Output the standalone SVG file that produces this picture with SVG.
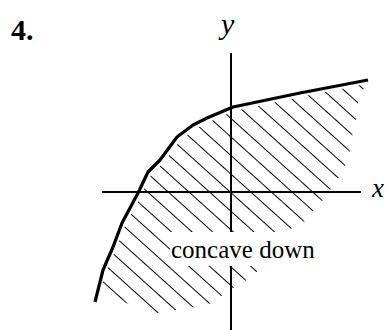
<svg xmlns="http://www.w3.org/2000/svg" width="388" height="330" viewBox="0 0 388 330">
  <style>
    .axis { stroke: #000; stroke-width: 2; fill: none; }
    .curve { stroke: #000; stroke-width: 3.2; fill: none; stroke-linejoin: round; stroke-linecap: butt; }
    .hatch { stroke: #000; stroke-width: 1.3; shape-rendering: crispEdges; }
    .lbl { font-family: "Liberation Serif", "Times New Roman", serif; fill: #000; }
  </style>
  <defs>
    <pattern id="hatchPat" patternUnits="userSpaceOnUse" width="200" height="13.8" patternTransform="rotate(42)">
      <line class="hatch" x1="0" y1="2.4" x2="200" y2="2.4"/>
    </pattern>
    <clipPath id="region">
      <polygon points="366,84 300,97 234,111 209,122 195,129 180,141 163,163 151,175 141,196 125,226 116,249 106,272 100,292 107,290 123,302 157,313 175,310 195,307 212,303 225,293 238,285 252,277 262,266 280,240 292,228 307,220 315,208 326,197 333,185 343,172 349,155 352,137 356,118 359,98"/>
    </clipPath>
  </defs>

  <g id="hatching">
    <rect x="0" y="0" width="388" height="330" fill="url(#hatchPat)" clip-path="url(#region)"/>
  </g>

  <g id="connectors">
    <line id="x-axis" class="axis" x1="102" y1="192" x2="361" y2="192"/>
    <line id="y-axis" class="axis" x1="231" y1="53" x2="231" y2="330"/>
  </g>

  <g id="label-concave">
    <rect x="170" y="232" width="148" height="34" fill="#fff"/>
    <text class="lbl" x="171" y="257.5" font-size="25">concave down</text>
  </g>

  <g id="curve">
    <polyline class="curve" points="368,80 300,93 233,107 207,118 193,125 177,137 160,160 148,172 138,193 122,223 113,247 103,270 95,302"/>
  </g>

  <g id="title">
    <text class="lbl" x="11" y="40" font-size="30" font-weight="bold">4.</text>
  </g>
  <g id="label-y">
    <text class="lbl" x="221" y="34" font-size="30" font-style="italic">y</text>
  </g>
  <g id="label-x">
    <text class="lbl" x="372" y="197" font-size="27" font-style="italic">x</text>
  </g>
</svg>
